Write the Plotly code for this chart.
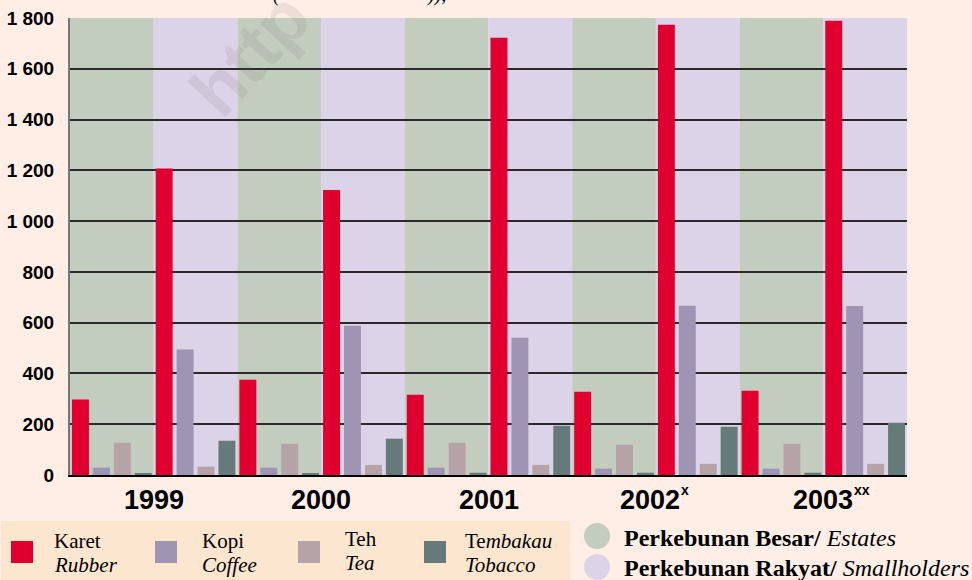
import plotly.graph_objects as go

# data, positions ordered: estates / smallholders per year
years = ["1999", "2000", "2001", "2002", "2003"]
year_marks = ["", "", "", "x", "xx"]

estates_rubber = [297, 375, 316, 328, 332]
estates_coffee = [29, 29, 29, 25, 25]
estates_tea = [127, 123, 127, 119, 123]
estates_tobacco = [5, 5, 9, 9, 9]

small_rubber = [1207, 1123, 1722, 1773, 1789]
small_coffee = [494, 588, 541, 667, 666]
small_tea = [33, 40, 40, 44, 44]
small_tobacco = [135, 143, 194, 190, 206]

commodities = ["Karet", "Kopi", "Teh", "Tembakau"]
commodities_en = ["Rubber", "Coffee", "Tea", "Tobacco"]
colors = ["#E0002F", "#9E95B5", "#B6A3A8", "#667A7A"]

GREEN = "#C2CDC0"
LAVENDER = "#DBD4E9"
PAGE = "#FEEEE6"
PEACH = "#FDE6CF"

W, H = 972, 580
L, R, T, B = 70, 65, 18, 105
PW, PH = W - L - R, H - T - B


def px(x):
    return (x - L) / PW


def py(y):
    return (H - B - y) / PH


def interleave(a, b):
    out = []
    for u, v in zip(a, b):
        out += [u, v]
    return out


series = [
    interleave(estates_rubber, small_rubber),
    interleave(estates_coffee, small_coffee),
    interleave(estates_tea, small_tea),
    interleave(estates_tobacco, small_tobacco),
]
positions = list(range(2 * len(years)))

fig = go.Figure()
for name, vals, col in zip(commodities, series, colors):
    fig.add_trace(go.Bar(x=positions, y=vals, name=name, marker_color=col,
                         marker_line_width=0, showlegend=False))

shapes = []
for i in positions:
    shapes.append(dict(type="rect", xref="x", yref="paper", x0=i - 0.5, x1=i + 0.5,
                       y0=0, y1=1, fillcolor=GREEN if i % 2 == 0 else LAVENDER,
                       line_width=0, layer="below"))

# legend box and swatches
shapes.append(dict(type="rect", xref="paper", yref="paper", x0=px(1), x1=px(570),
                   y0=py(580), y1=py(521), fillcolor=PEACH, line_width=0, layer="below"))
sw_x = [11, 155, 298, 424]
for x0, col in zip(sw_x, colors):
    shapes.append(dict(type="rect", xref="paper", yref="paper", x0=px(x0), x1=px(x0 + 22),
                       y0=py(563), y1=py(541), fillcolor=col, line_width=0))
for cy, col in [(536, GREEN), (567, LAVENDER)]:
    shapes.append(dict(type="circle", xref="paper", yref="paper", x0=px(584), x1=px(610),
                       y0=py(cy + 13), y1=py(cy - 13), fillcolor=col, line_width=0))

annotations = []
sans = "Liberation Sans, Arial"
# year labels sit on the estate / smallholder boundary of each year
label_nudge = [0, 0, 0, -6, 0]
for k, (yr, mk, nd) in enumerate(zip(years, year_marks, label_nudge)):
    xc = 2 * k + 0.5
    annotations.append(dict(text="<b>" + yr + "</b>", x=xc, xref="x", y=py(500), yref="paper",
                            xanchor="center", yanchor="middle", xshift=nd, showarrow=False,
                            font=dict(family=sans, size=27, color="black")))
    if mk:
        annotations.append(dict(text="<b>" + mk + "</b>", x=xc, xref="x", y=py(490),
                                yref="paper", xanchor="left", yanchor="middle",
                                xshift=29 + nd, showarrow=False,
                                font=dict(family=sans, size=14, color="black")))

txt_x = [52, 200, 343, 463]
serif = "Liberation Serif, Times New Roman"
for tx, nm, en in zip(txt_x, commodities, commodities_en):
    top = nm if nm != "Tembakau" else "Te<i>mbakau</i>"
    dy = -2 if nm == "Teh" else 0
    annotations.append(dict(text=top, x=px(tx), y=py(541 + dy), xref="paper", yref="paper",
                            xanchor="left", yanchor="middle", showarrow=False,
                            font=dict(family=serif, size=21, color="black")))
    annotations.append(dict(text="<i>" + en + "</i>", x=px(tx), y=py(565 + dy), xref="paper",
                            yref="paper", xanchor="left", yanchor="middle", showarrow=False,
                            font=dict(family=serif, size=21, color="black")))

for cy, t in [(538, "<b>Perkebunan Besar/</b> <i>Estates</i>"),
              (568, "<b>Perkebunan Rakyat/</b> <i>Smallholders</i>")]:
    annotations.append(dict(text=t, x=px(622), y=py(cy), xref="paper", yref="paper",
                            xanchor="left", yanchor="middle", showarrow=False,
                            font=dict(family=serif, size=24, color="black")))

# watermark and cut-off heading fragments
annotations.append(dict(text="<b>http</b>", x=px(250), y=py(54), xref="paper", yref="paper",
                        xanchor="center", yanchor="middle", textangle=-47, showarrow=False,
                        font=dict(family=sans, size=72,
                                  color="rgba(120,110,110,0.13)")))
for fx, ft in [(277, "("), (436, ")),")]:
    annotations.append(dict(text="<i>" + ft + "</i>", x=px(fx), y=py(8), xref="paper",
                            yref="paper", xanchor="center", yanchor="bottom", showarrow=False,
                            font=dict(family=serif, size=20, color="black")))

fig.update_layout(
    width=W, height=H,
    margin=dict(l=L, r=R, t=T, b=B, autoexpand=False),
    paper_bgcolor=PAGE,
    plot_bgcolor=PAGE,
    barmode="group",
    bargap=0.0,
    bargroupgap=0.19,
    separators=", ",
    shapes=shapes,
    annotations=annotations,
    xaxis=dict(range=[-0.5, 9.5], showticklabels=False, showgrid=False, zeroline=False,
               showline=True, linecolor="black", linewidth=2, fixedrange=True),
    yaxis=dict(range=[0, 1800], dtick=200, tickformat=",d", showgrid=True,
               gridcolor="#2a2a2a", gridwidth=1.5, zeroline=False, showline=True,
               linecolor="#777777", linewidth=2, ticklabelstandoff=10,
               tickfont=dict(family=sans, size=19, color="black", weight="bold")),
)

# page body has a default 8px margin; drop it so the figure fills the window
fig.write_html("out.html", config={"displayModeBar": False},
               post_script="document.body.style.margin='0px';")
